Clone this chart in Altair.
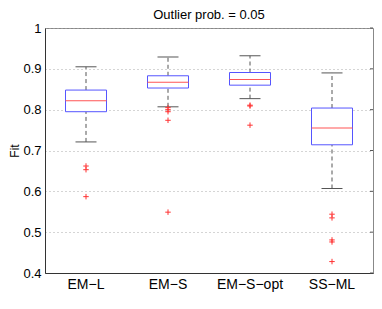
import altair as alt
import pandas as pd

categories = ["EM\u2212L", "EM\u2212S", "EM\u2212S\u2212opt", "SS\u2212ML"]
lower_whisker = [0.721, 0.807, 0.827, 0.607]
q1 = [0.795, 0.853, 0.860, 0.714]
median = [0.822, 0.867, 0.874, 0.755]
q3 = [0.848, 0.883, 0.891, 0.804]
upper_whisker = [0.905, 0.929, 0.932, 0.890]

outlier_cat = ["EM\u2212L", "EM\u2212L", "EM\u2212L",
               "EM\u2212S", "EM\u2212S", "EM\u2212S", "EM\u2212S", "EM\u2212S",
               "EM\u2212S\u2212opt", "EM\u2212S\u2212opt", "EM\u2212S\u2212opt",
               "SS\u2212ML", "SS\u2212ML", "SS\u2212ML", "SS\u2212ML", "SS\u2212ML"]
outlier_val = [0.662, 0.653, 0.587,
               0.805, 0.800, 0.795, 0.774, 0.549,
               0.811, 0.809, 0.762,
               0.544, 0.535, 0.481, 0.476, 0.428]

y_ticks = [0.4, 0.5, 0.6, 0.7, 0.8, 0.9, 1.0]

W, H = 328, 245

stats = pd.DataFrame({
    "cat": categories, "lo": lower_whisker, "q1": q1, "med": median,
    "q3": q3, "hi": upper_whisker,
})
outs = pd.DataFrame({"cat": outlier_cat, "val": outlier_val})
ticks_df = pd.DataFrame({"t": y_ticks})

xenc = alt.X("cat:N", sort=categories, title=None,
             scale=alt.Scale(paddingInner=0, paddingOuter=0),
             axis=alt.Axis(labelAngle=0, ticks=False, labelPadding=4,
                           labelFontSize=14, domain=True))
yscale = alt.Scale(domain=[0.4, 1.0], nice=False, zero=False)
yaxis = alt.Axis(values=y_ticks, format="~g", title="Fit", grid=True,
                 gridDash=[1, 3], gridColor="#aaaaaa", ticks=False,
                 labelFontSize=13, labelPadding=4, titleFontSize=12,
                 titleFontWeight="normal", titlePadding=1)

base = alt.Chart(stats)

whisk_lo = base.mark_rule(color="#555555", strokeDash=[4, 3], strokeWidth=1).encode(
    x=xenc, y=alt.Y("lo:Q", scale=yscale, axis=yaxis), y2="q1:Q")
whisk_hi = base.mark_rule(color="#555555", strokeDash=[4, 3], strokeWidth=1).encode(
    x=xenc, y=alt.Y("q3:Q", scale=yscale, axis=yaxis), y2="hi:Q")
cap_lo = base.mark_tick(color="#555555", size=21, thickness=1, opacity=1).encode(
    x=xenc, y=alt.Y("lo:Q", scale=yscale, axis=yaxis))
cap_hi = base.mark_tick(color="#555555", size=21, thickness=1, opacity=1).encode(
    x=xenc, y=alt.Y("hi:Q", scale=yscale, axis=yaxis))
box = base.mark_bar(size=41, fill="white", stroke="#5555ff", strokeWidth=1).encode(
    x=xenc, y=alt.Y("q1:Q", scale=yscale, axis=yaxis), y2="q3:Q")
med = base.mark_tick(color="#ff5555", size=41, thickness=1, opacity=1).encode(
    x=xenc, y=alt.Y("med:Q", scale=yscale, axis=yaxis))
pts = alt.Chart(outs).mark_point(
    shape="M-1,0L1,0M0,-1L0,1", size=30, filled=False, color="#ff3333",
    strokeWidth=1, opacity=1).encode(
    x=xenc, y=alt.Y("val:Q", scale=yscale, axis=yaxis))
right_ticks = alt.Chart(ticks_df).mark_rule(color="#555555", strokeWidth=1).encode(
    x=alt.value(W - 3), x2=alt.value(W),
    y=alt.Y("t:Q", scale=yscale, axis=yaxis))

chart = alt.layer(whisk_lo, whisk_hi, cap_lo, cap_hi, box, med, pts, right_ticks).properties(
    width=W, height=H,
    title=alt.TitleParams("Outlier prob. = 0.05", fontSize=13, fontWeight="normal",
                          anchor="middle", offset=0, color="black"),
    autosize=alt.AutoSizeParams(type="none"),
    padding={"left": 37, "top": 20, "right": 1, "bottom": 22},
).configure(font="Liberation Sans").configure_view(
    stroke="#888888", strokeWidth=1
).configure_axis(
    domainColor="#333333", labelColor="black", titleColor="black"
)

chart.save("out.html", embed_options={"renderer": "svg", "actions": False})
